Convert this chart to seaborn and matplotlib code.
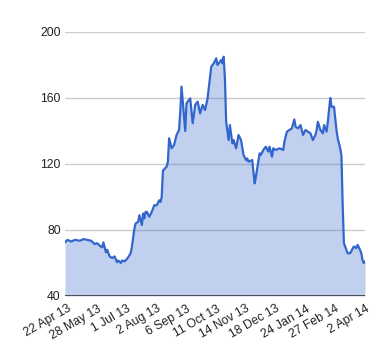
import pandas as pd
import matplotlib
matplotlib.use("Agg")
import matplotlib.pyplot as plt
import seaborn as sns

# trading-day index (0 = first session) and closing value
day = [0, 2, 5, 8, 12, 15, 18, 21, 24, 26, 28, 30, 31, 33, 34, 36, 38, 40, 42, 43,
       45, 46, 48, 50, 51, 53, 54, 56, 57, 59, 60, 62, 63, 64, 65, 66, 68, 70, 72, 74,
       76, 77, 78, 79, 82, 83, 84, 86, 88, 90, 92, 93, 94, 97, 98, 101, 103, 105, 107, 109,
       111, 113, 115, 118, 120, 122, 123, 126, 127, 128, 129, 130, 132, 133, 135, 136, 138, 140, 142, 144,
       146, 147, 148, 151, 153, 154, 157, 158, 160, 162, 164, 165, 167, 168, 170, 173, 176, 177, 179, 181,
       183, 185, 186, 188, 190, 192, 194, 196, 198, 200, 202, 203, 204, 206, 208, 209, 211, 212, 214, 215,
       217, 219, 220, 222, 223, 224, 225, 228, 230, 233, 235, 236, 238, 239, 240, 241, 242]
price = [72.5, 74, 73, 74, 73.5, 74.5, 74, 73.5, 71.5, 72, 70.5, 69.5, 72.5, 66.5, 68, 64, 63, 64, 60.5, 61.5,
         60, 61.5, 61, 62.5, 63.5, 66, 70, 81, 84, 85, 89, 83, 90, 87, 91, 91, 88, 91, 95, 95,
         98, 97, 100, 116, 118.4, 121.4, 135.6, 129.5, 131.5, 137.6, 140.6, 151.7, 166.9, 140, 156.8, 159.8, 144.7, 155.8, 157.8, 150.7,
         155.8, 152.7, 159.8, 179, 181, 184, 180, 183, 181, 185, 172, 145.6, 134.5, 143.6, 132.5, 134.5, 129.5, 137.6, 134.5, 125.5,
         122.4, 123.4, 121.4, 122.4, 108.3, 112.3, 126.5, 125.5, 128.5, 130.5, 127.5, 130.5, 124.4, 129.5, 128.5, 129.5, 128.5, 133.5, 139.6, 140.6,
         141.6, 147, 142.6, 141.6, 143.6, 137.6, 140.6, 139.6, 138.6, 134.5, 137.6, 140.6, 145.6, 140.6, 138.6, 143.6, 139.6, 145.6, 160, 154.7,
         154.7, 140.6, 135.6, 129.5, 125, 95, 72, 65.9, 65.9, 70, 69, 71, 68, 66, 61.8, 60, 61]

tick_days = [2, 26, 50, 74, 98, 122, 146, 170, 194, 218, 242]
tick_labels = ["22 Apr 13", "28 May 13", "1 Jul 13", "2 Aug 13", "6 Sep 13", "11 Oct 13",
               "14 Nov 13", "18 Dec 13", "24 Jan 14", "27 Feb 14", "2 Apr 14"]

df = pd.DataFrame({"day": day, "price": price})

sns.set_style("white")
plt.rcParams["font.family"] = ["Liberation Sans", "DejaVu Sans"]

fig = plt.figure(figsize=(3.8, 3.6), dpi=100)
ax = fig.add_axes([65 / 380, 1 - 296 / 360, 300 / 380, 264 / 360])

for y in [80, 120, 160, 200]:
    ax.axhline(y, color="#cccccc", lw=1, zorder=0)

ax.fill_between(df["day"], 40, df["price"], color="#3366cc", alpha=0.3, lw=0, zorder=1)
sns.lineplot(data=df, x="day", y="price", ax=ax, color="#3366cc", lw=1.6, zorder=2)
ax.axhline(40, color="#333333", lw=1.2, zorder=3)

ax.set_xlim(0, 242)
ax.set_ylim(40, 200)
ax.set_yticks([40, 80, 120, 160, 200])
ax.set_xticks(tick_days)
ax.set_xticklabels(tick_labels, rotation=30, ha="right", rotation_mode="anchor")
ax.tick_params(axis="both", length=0, labelsize=8.8, colors="#222222")
ax.tick_params(axis="y", pad=3)
ax.tick_params(axis="x", pad=5)
ax.set_xlabel("")
ax.set_ylabel("")
sns.despine(ax=ax, left=True, bottom=True)

fig.savefig("out.png", dpi=100)
